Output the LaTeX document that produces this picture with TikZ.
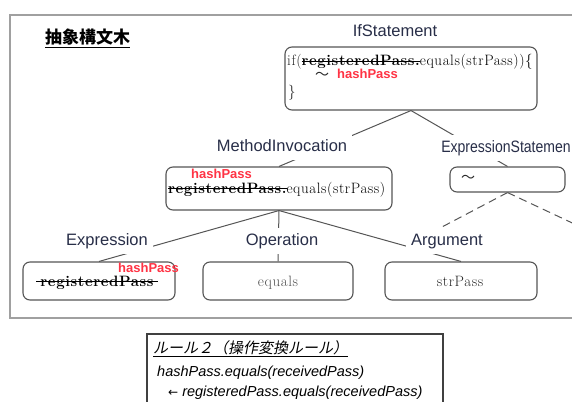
\documentclass[tikz,border=0pt]{standalone}
\usepackage{fontspec}
\newfontfamily\labf{Liberation Sans}
\newfontfamily\cjk{Noto Sans CJK JP}
\newfontfamily\cjkit[FakeSlant=0.2]{Noto Sans CJK JP}
\newfontfamily\dvf{DejaVu Sans}
\newfontfamily\codef[LetterSpace=4]{Latin Modern Roman}
\definecolor{lbl}{RGB}{40,46,72}
\definecolor{hp}{RGB}{255,51,68}
\definecolor{edge}{RGB}{85,85,85}
\definecolor{frm}{RGB}{160,160,160}
\definecolor{codegray}{RGB}{40,40,40}
\definecolor{lightcode}{RGB}{80,80,80}
\newcommand{\strk}[2][0pt]{\setbox0\hbox{#2}\rlap{\hspace{-#1}\rule[0.28em]{\dimexpr\wd0+#1+#1\relax}{0.9pt}}\box0}
\begin{document}
\begin{tikzpicture}[x=1pt,y=-1pt,
  cbox/.style={draw=edge, line width=1.1pt, rounded corners=7pt, inner sep=0pt},
  conn/.style={draw=edge, line width=1pt},
  dconn/.style={draw=edge, line width=1pt, dash pattern=on 8pt off 5pt},
  lbltext/.style={fill=white, text=lbl, font=\labf\fontsize{16.5}{18}\selectfont, inner xsep=5pt, inner ysep=5.5pt, text height=12pt, text depth=3.5pt},
  code/.style={anchor=base west, inner sep=0pt, text=codegray, font=\codef\fontsize{15}{16}\selectfont},
  hpass/.style={anchor=base west, inner sep=0pt, text=hp, font=\labf\bfseries\fontsize{13}{14}\selectfont},
  ruletext/.style={anchor=base west, inner sep=0pt, text=black}]
\useasboundingbox (0,0) rectangle (572,401);
\clip (0,0) rectangle (572,401);
% frames
\draw[frm, line width=1.2pt] (590,15) -- (10,15) -- (10,318) -- (590,318);
\draw[draw={rgb,255:red,64;green,64;blue,64}, line width=1.2pt] (147,410) -- (147,334) -- (443,334) -- (443,410);
% title
\node[anchor=base west, inner sep=0pt] (title) at (45,44) {\cjk\bfseries\fontsize{17}{18}\selectfont\underline{抽象構文木}};
% boxes
\node[cbox, minimum width=252pt, minimum height=63pt] (ifbox) at (411,78.5) {};
\node[cbox, minimum width=226pt, minimum height=43pt] (mibox) at (279,188.5) {};
\node[cbox, minimum width=115pt, minimum height=25pt] (esbox) at (507.5,179.5) {};
\node[cbox, minimum width=152pt, minimum height=38pt] (exbox) at (99,281) {};
\node[cbox, minimum width=150pt, minimum height=38pt] (opbox) at (278,281) {};
\node[cbox, minimum width=152pt, minimum height=38pt] (arbox) at (461,281) {};
% connectors
\coordinate (dl) at (440,228);
\coordinate (dr) at (600,236);
\draw[conn] (ifbox.south) -- (mibox.north);
\draw[conn] (ifbox.south) -- (esbox.north);
\draw[conn] (mibox.south) -- (exbox.north);
\draw[conn] (mibox.south) -- (opbox.north);
\draw[conn] (mibox.south) -- (arbox.north);
\draw[dconn] (esbox.south) -- (dl);
\draw[dconn] (esbox.south) -- (dr);
% labels
\node[lbltext] (lif) at (395,32) {IfStatement};
\node[lbltext] (lmi) at (282,147) {MethodInvocation};
\node[lbltext] (les) at (506,148) {\scalebox{0.85}[1]{ExpressionStatemen}};
\node[lbltext] (lex) at (107,241) {Expression};
\node[lbltext] (lop) at (282,241) {Operation};
\node[lbltext] (lar) at (447,241) {Argument};
% IfStatement box text
\node[code] (if1) at (287,66) {if(\strk{\bfseries\color{black}registeredPass.}equals(strPass))\{};
\node[anchor=base west, inner sep=0pt, text=codegray, text height=6pt, text depth=0pt] (if2) at (315,80) {\cjk\fontsize{14}{16}\selectfont ～};
\node[hpass] (if3) at (337,79) {hashPass};
\node[code] (if4) at (288,96) {\}};
% MethodInvocation box text
\node[hpass] (mi1) at (191,178) {hashPass};
\node[code] (mi2) at (168,193) {\strk{\bfseries\color{black}registeredPass.}equals(strPass)};
% ExpressionStatement box text
\node[anchor=center, inner sep=0pt, text=codegray] (es1) at (468,179) {\cjk\fontsize{14}{16}\selectfont ～};
% bottom boxes text
\node[code, anchor=base] (ex1) at (97,286) {\strk[4pt]{\bfseries\color{black}registeredPass}};
\node[hpass] (ex2) at (118,272) {hashPass};
\node[code, anchor=base, text=lightcode] (op1) at (278,286) {equals};
\node[code, anchor=base] (ar1) at (460,286) {strPass};
% rule box text
\node[ruletext] (r1) at (153,353) {\cjkit\fontsize{15}{16}\selectfont\underline{ルール２（操作変換ルール）}};
\node[ruletext] (r2) at (157,376) {\labf\itshape\fontsize{14.5}{16}\selectfont hashPass.equals(receivedPass)};
\node[ruletext] (r3) at (168,396) {{\dvf\fontsize{12}{14}\selectfont ←}\labf\itshape\fontsize{14.5}{16}\selectfont\ registeredPass.equals(receivedPass)};
\end{tikzpicture}
\end{document}
